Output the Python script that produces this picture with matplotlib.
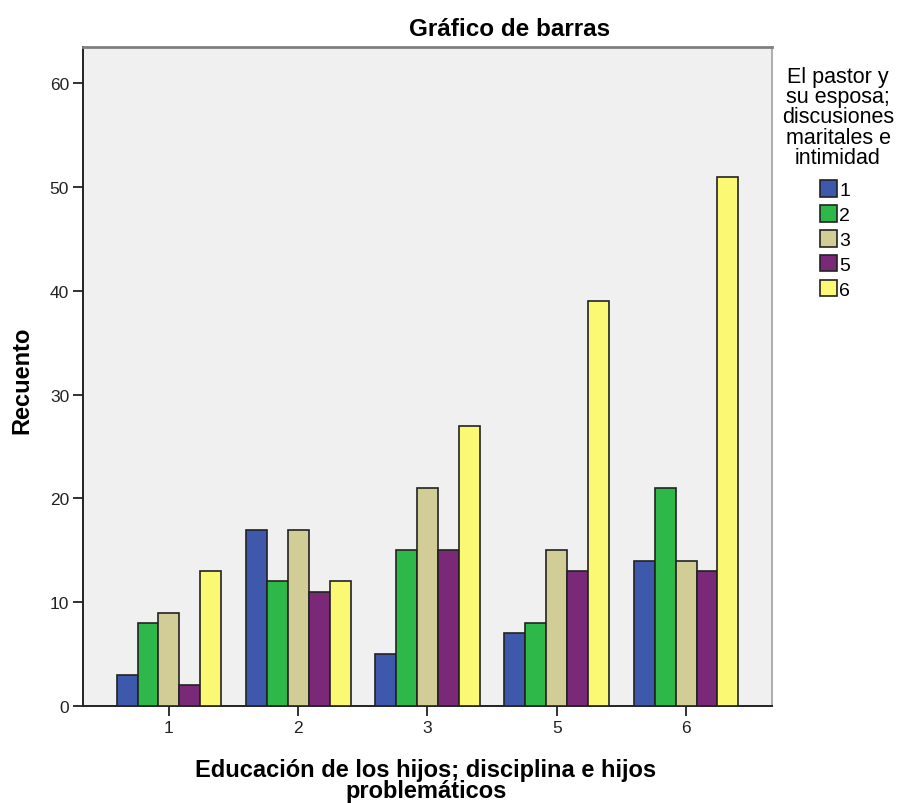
import matplotlib
matplotlib.use("Agg")
import matplotlib.pyplot as plt
import numpy as np
from matplotlib.patches import Patch

categories = ["1", "2", "3", "5", "6"]
series_names = ["1", "2", "3", "5", "6"]
values = {
    "1": [3, 17, 5, 7, 14],
    "2": [8, 12, 15, 8, 21],
    "3": [9, 17, 21, 15, 14],
    "5": [2, 11, 15, 13, 13],
    "6": [13, 12, 27, 39, 51],
}
colors = ["#3e58ac", "#2fb84a", "#d2cc96", "#7a2878", "#fbf873"]

plt.rcParams['font.family'] = ['Liberation Sans', 'DejaVu Sans']
fig = plt.figure(figsize=(9.01, 8.04), dpi=100)
ax = fig.add_axes([83/901, 1-707/804, (772-83)/901, (707-48)/804])
ax.set_facecolor("#f0f0f0")

x = np.arange(len(categories))
w = 0.162
for i, s in enumerate(series_names):
    ax.bar(x + (i - 2) * w, values[s], width=w, color=colors[i],
           edgecolor="#222222", linewidth=1.2, zorder=3)

ax.set_xlim(-0.665, 4.665)
ax.set_ylim(0, 63.5)
ax.set_yticks([0, 10, 20, 30, 40, 50, 60])
ax.set_xticks(x)
ax.set_xticklabels(categories)
ax.tick_params(axis='both', direction='out', length=7, width=1.3, labelsize=12.5,
               colors="#222222", pad=3)
ax.spines["top"].set_color("#808080")
ax.spines["top"].set_linewidth(2.0)
ax.spines["right"].set_color("#a0a0a0")
ax.spines["right"].set_linewidth(1.2)
for side in ["left", "bottom"]:
    ax.spines[side].set_color("#222222")
    ax.spines[side].set_linewidth(1.4)

fig.text(510/901, 1-30/804, "Gráfico de barras", ha="center", va="center",
         fontsize=17.5, fontweight="bold")
fig.text(22/901, 1-380/804, "Recuento", ha="center", va="center",
         rotation=90, fontsize=17, fontweight="bold")
fig.text(426/901, 1-781/804, "Educación de los hijos; disciplina e hijos\nproblemáticos",
         ha="center", va="center", fontsize=17, fontweight="bold", linespacing=0.92)

handles = [Patch(facecolor=colors[i], edgecolor="#222222", linewidth=1.2, label=s)
           for i, s in enumerate(series_names)]
leg = fig.legend(handles=handles, loc="upper left", bbox_to_anchor=(820/901, 1-181/804),
                 frameon=False, fontsize=14, handlelength=0.85, handleheight=0.95,
                 handletextpad=0.15, labelspacing=0.3, borderaxespad=0, borderpad=0)
fig.text(838/901, 1-118/804, "El pastor y\nsu esposa;\ndiscusiones\nmaritales e\nintimidad",
         ha="center", va="center", fontsize=15.5, linespacing=0.95)

fig.savefig("out.png", dpi=100, facecolor="white")
